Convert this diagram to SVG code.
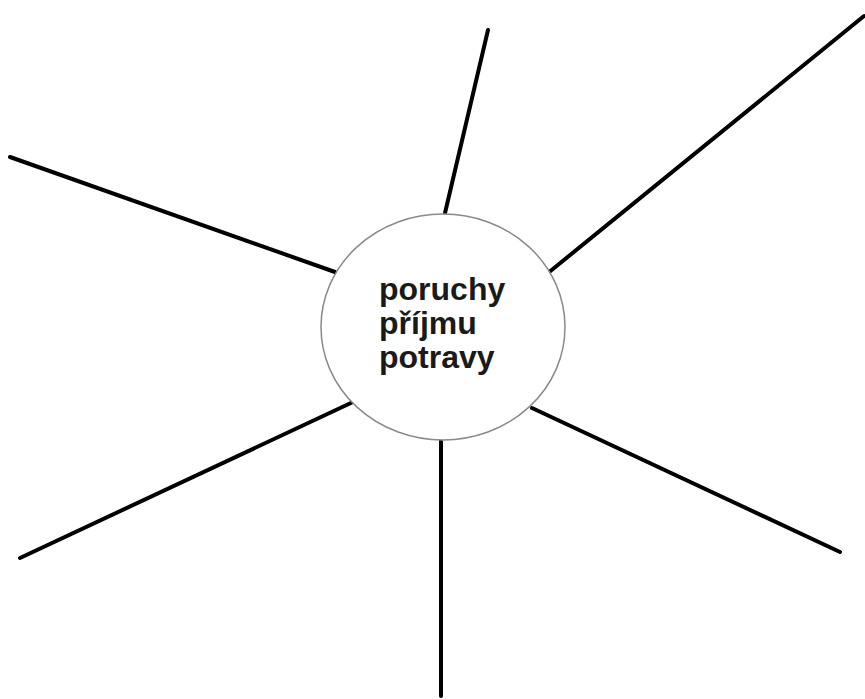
<svg xmlns="http://www.w3.org/2000/svg" width="865" height="699" viewBox="0 0 865 699">
<style>
.spoke{stroke:#000;stroke-width:4;stroke-linecap:round;fill:none}
.hub{fill:#fff;stroke:#8a8a8a;stroke-width:1.5}
.lbl{font-family:"Liberation Sans",Arial,sans-serif;font-weight:bold;font-size:32px;fill:#1a1a1a}
</style>
<rect width="865" height="699" fill="#fff"/>
<g id="connectors">
<line class="spoke" x1="445" y1="213" x2="488" y2="30"/>
<line class="spoke" x1="335" y1="272" x2="10" y2="157"/>
<line class="spoke" x1="548" y1="273" x2="864" y2="16"/>
<line class="spoke" x1="353" y1="402" x2="20" y2="558"/>
<line class="spoke" x1="532" y1="408" x2="840" y2="552"/>
<line class="spoke" x1="441" y1="441" x2="441" y2="696"/>
</g>
<g id="center">
<ellipse class="hub" cx="443" cy="327" rx="122" ry="113"/>
<text class="lbl" x="379" y="300">poruchy</text>
<text class="lbl" x="379" y="334">příjmu</text>
<text class="lbl" x="379" y="368">potravy</text>
</g>
</svg>
